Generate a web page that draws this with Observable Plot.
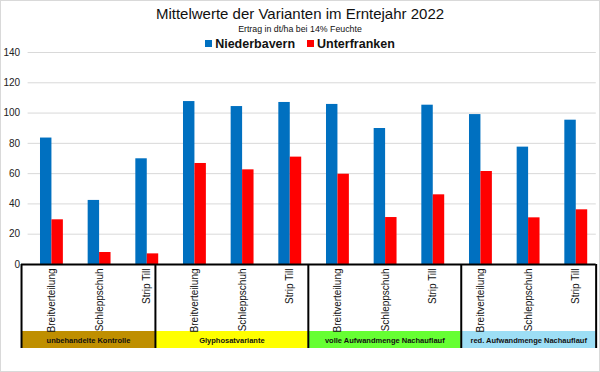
<!DOCTYPE html>
<html><head><meta charset="utf-8">
<script src="https://cdn.jsdelivr.net/npm/d3@7"></script>
<script src="https://cdn.jsdelivr.net/npm/@observablehq/plot@0.6"></script>
<style>
body{margin:0;font-family:"Liberation Sans",Arial,sans-serif;background:#fff;}
#chart{position:relative;width:600px;height:372px;overflow:hidden;background:#fff;}
#frame{position:absolute;left:0;top:0;width:600px;height:372px;box-sizing:border-box;border:1px solid #d9d9d9;pointer-events:none;}
#title{position:absolute;left:0;width:600px;top:5px;text-align:center;font-size:15px;color:#111;}
#subtitle{position:absolute;left:0;width:600px;top:23.5px;text-align:center;font-size:8.8px;color:#111;}
#legend{position:absolute;left:0;width:600px;top:36.5px;display:flex;justify-content:center;gap:12px;font-size:12.5px;font-weight:bold;color:#111;}
#legend span.item{display:flex;align-items:center;gap:3px;}
#legend span.sw{display:inline-block;width:7px;height:7px;}
#plot{position:absolute;left:0;top:48px;}
</style></head><body>
<div id="chart">
  <div id="title">Mittelwerte der Varianten im Erntejahr 2022</div>
  <div id="subtitle">Ertrag in dt/ha bei 14% Feuchte</div>
  <div id="legend"></div>
  <div id="plot"></div>
  <div id="frame"></div>
</div>
<script>
// ---- data ----
const groups = ["unbehandelte Kontrolle", "Glyphosatvariante", "volle Aufwandmenge Nachauflauf", "red. Aufwandmenge Nachauflauf"];
const methods = ["Breitverteilung", "Schleppschuh", "Strip Till"];
const seriesNames = ["Niederbayern", "Unterfranken"];
const niederbayern = [83.5, 42.3, 69.8, 107.6, 104.3, 107.0, 105.7, 89.8, 105.2, 99.0, 77.5, 95.3];
const unterfranken = [29.5, 7.9, 7.0, 66.7, 62.5, 70.9, 59.6, 31.0, 46.0, 61.4, 30.8, 36.1];
const yTicks = [0, 20, 40, 60, 80, 100, 120, 140];

// ---- styling / layout ----
const seriesColors = ["#0070C0", "#FF0000"];
const groupColors = ["#BF8F00", "#FFFF00", "#66FF33", "#9DDEF5"];
// table cell edges (in category-index units) of the category table below the axis
const groupEdges = [-0.638, 2.171, 5.379, 8.587, 11.417];
const tableBottom = -55.5, bandTop = -44.27, bandMid = -50.1;
const halfBar = 0.24;

// legend
const leg = document.getElementById("legend");
seriesNames.forEach((s, i) => {
  const it = document.createElement("span"); it.className = "item";
  it.innerHTML = `<span class="sw" style="background:${seriesColors[i]}"></span>${s}`;
  leg.appendChild(it);
});

const cats = [];
groups.forEach((g, gi) => methods.forEach((m, mi) => cats.push({i: gi * methods.length + mi, group: g, method: m})));
const bars = [];
cats.forEach(c => {
  bars.push({i: c.i, series: seriesNames[0], value: niederbayern[c.i]});
  bars.push({i: c.i, series: seriesNames[1], value: unterfranken[c.i]});
});
const groupRows = groups.map((g, gi) => ({g, gi, x1: groupEdges[gi], x2: groupEdges[gi + 1]}));

const chart = Plot.plot({
  width: 600,
  height: 324,
  marginTop: 4,
  marginBottom: 24,
  marginLeft: 27.6,
  marginRight: 0.4,
  style: {fontFamily: '"Liberation Sans", Arial, sans-serif', background: "white"},
  x: {domain: [-0.5, 11.5], axis: null},
  y: {domain: [tableBottom, 140], label: null},
  marks: [
    Plot.ruleY(yTicks.filter(t => t > 0), {x1: -0.5, x2: 11.42, stroke: "#d9d9d9", strokeWidth: 1}),
    Plot.axisY({ticks: yTicks, tickSize: 0, tickPadding: 8, fontSize: 10, fill: "#222", label: null}),
    Plot.rectY(bars, {
      x1: d => d.series === seriesNames[0] ? d.i - halfBar : d.i,
      x2: d => d.series === seriesNames[0] ? d.i : d.i + halfBar,
      y1: 0, y2: "value",
      fill: d => seriesColors[seriesNames.indexOf(d.series)]
    }),
    // category table
    Plot.rect(groupRows, {x1: "x1", x2: "x2", y1: tableBottom, y2: bandTop, fill: d => groupColors[d.gi]}),
    Plot.ruleY([0], {x1: groupEdges[0], x2: groupEdges[groupEdges.length - 1], stroke: "black", strokeWidth: 2}),
    Plot.ruleX(groupEdges, {y1: tableBottom, y2: 0, stroke: "black", strokeWidth: 2}),
    Plot.text(cats, {x: "i", y: 0, text: "method", rotate: -90, textAnchor: "end", dy: 4, fontSize: 10, fill: "#111"}),
    Plot.text(groupRows, {x: d => (d.x1 + d.x2) / 2, y: bandMid, text: "g", fontSize: 7.5, fontWeight: "bold", fill: "#111"})
  ]
});
document.getElementById("plot").appendChild(chart);
</script>
</body></html>
